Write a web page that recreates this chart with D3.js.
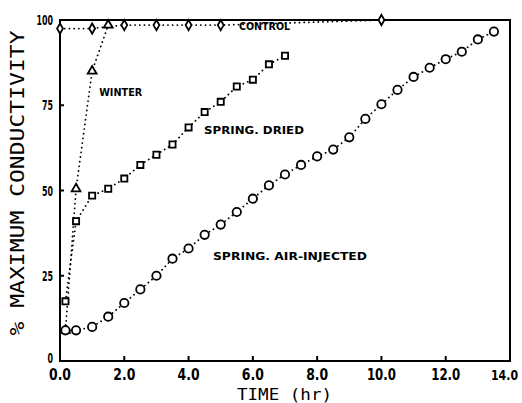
<!DOCTYPE html>
<html>
<head>
<meta charset="utf-8">
<script src="https://cdn.jsdelivr.net/npm/d3@7"></script>
<style>
  body { margin: 0; background: #fff; }
  svg { display: block; }
</style>
</head>
<body>
<div id="chart"></div>
<script>
// values: [time (hr), % maximum conductivity]
const control = [[0, 97.5], [1.0, 97.5], [2.0, 98.5], [3.0, 98.5], [4.0, 98.5], [5.0, 98.5], [10.0, 100]];
const winter = [[0.17, 9], [0.5, 50.5], [1.0, 85], [1.5, 98.5]];
const springDried = [[0.17, 17.5], [0.5, 41], [1.0, 48.5], [1.5, 50.5], [2.0, 53.5], [2.5, 57.5],
  [3.0, 60.5], [3.5, 63.5], [4.0, 68.5], [4.5, 73], [5.0, 76], [5.5, 80.5], [6.0, 82.5],
  [6.5, 87], [7.0, 89.5]];
const airInjected = [[0.17, 9], [0.5, 9], [1.0, 10], [1.5, 13], [2.0, 17], [2.5, 21], [3.0, 25],
  [3.5, 30], [4.0, 33], [4.5, 37], [5.0, 40], [5.5, 43.7], [6.0, 47.6], [6.5, 51.5], [7.0, 54.7],
  [7.5, 57.5], [8.0, 60], [8.5, 62], [9.0, 65.6], [9.5, 71], [10.0, 75.3], [10.5, 79.5],
  [11.0, 83.3], [11.5, 86], [12.0, 88.5], [12.5, 90.7], [13.0, 94.3], [13.5, 96.6]];

const xTicks = [0, 2, 4, 6, 8, 10, 12, 14];
const yTicks = [0, 25, 50, 75, 100];

// series labels, anchored in data units (left edge, baseline)
const labels = [
  {text: 'CONTROL', t: 5.57, v: 97.2, len: 51},
  {text: 'WINTER', t: 1.22, v: 77.8, len: 43},
  {text: 'SPRING. DRIED', t: 4.48, v: 66.6, len: 100},
  {text: 'SPRING. AIR-INJECTED', t: 4.76, v: 29.7, len: 154}
];

const width = 522, height = 403;
const margin = {left: 60, right: 12, top: 20, bottom: 42};

const svg = d3.select('#chart').append('svg')
  .attr('width', width)
  .attr('height', height);

const x = d3.scaleLinear().domain([0, 14]).range([margin.left, width - margin.right]);
const y = d3.scaleLinear().domain([0, 100]).range([height - margin.bottom, margin.top]);

const line = d3.line().x(d => x(d[0])).y(d => y(d[1]));

// frame
svg.append('rect')
  .attr('x', x(0)).attr('y', y(100))
  .attr('width', x(14) - x(0)).attr('height', y(0) - y(100))
  .attr('fill', 'none').attr('stroke', '#000').attr('stroke-width', 2);

// ticks pointing inward
svg.selectAll('.xtick').data(xTicks.slice(1, -1)).enter().append('line')
  .attr('x1', d => x(d)).attr('x2', d => x(d))
  .attr('y1', y(0)).attr('y2', y(0) - 5)
  .attr('stroke', '#000').attr('stroke-width', 2);
svg.selectAll('.ytick').data(yTicks.slice(1, -1)).enter().append('line')
  .attr('x1', x(0)).attr('x2', x(0) + 4)
  .attr('y1', d => y(d)).attr('y2', d => y(d))
  .attr('stroke', '#000').attr('stroke-width', 2);

// tick labels (last one right-aligned so it stays inside the page)
const lastTick = xTicks[xTicks.length - 1];
svg.selectAll('.xlab').data(xTicks).enter().append('text')
  .attr('x', d => d === lastTick ? width - 4 : x(d)).attr('y', y(0) + 19)
  .attr('text-anchor', d => d === lastTick ? 'end' : 'middle')
  .attr('font-family', 'DejaVu Sans Condensed')
  .attr('font-weight', 'bold')
  .attr('font-size', d => d === lastTick ? 14 : 15)
  .attr('textLength', d => d === lastTick ? 27 : d >= 10 ? 29 : 22)
  .attr('lengthAdjust', 'spacingAndGlyphs')
  .text(d => d.toFixed(1));

svg.selectAll('.ylab').data(yTicks).enter().append('text')
  .attr('x', x(0) - 7).attr('y', d => d === 0 ? y(d) + 2 : y(d) + 5)
  .attr('text-anchor', 'end')
  .attr('font-family', 'DejaVu Sans Condensed')
  .attr('font-weight', 'bold')
  .attr('font-size', 14)
  .attr('textLength', d => String(d).length * 5.5)
  .attr('lengthAdjust', 'spacingAndGlyphs')
  .text(d => d);

// axis titles
svg.append('text')
  .attr('x', x(7) - 48).attr('y', height - 3)
  .attr('font-family', 'DejaVu Sans Mono')
  .attr('font-size', 16)
  .attr('textLength', 95)
  .attr('lengthAdjust', 'spacingAndGlyphs')
  .text('TIME (hr)');

svg.append('text')
  .attr('transform', `translate(24, ${y(50) + 145}) rotate(-90)`)
  .attr('font-family', 'DejaVu Sans Mono')
  .attr('font-size', 20)
  .attr('textLength', 305)
  .attr('lengthAdjust', 'spacingAndGlyphs')
  .text('% MAXIMUM CONDUCTIVITY');

// dotted series lines
const series = [
  {data: control, shape: d3.symbolDiamond, size: 30},
  {data: winter, shape: d3.symbolTriangle, size: 34},
  {data: springDried, shape: d3.symbolSquare, size: 38},
  {data: airInjected, shape: d3.symbolCircle, size: 55}
];

series.forEach(s => {
  svg.append('path')
    .attr('d', line(s.data))
    .attr('fill', 'none')
    .attr('stroke', '#000')
    .attr('stroke-width', 1.8)
    .attr('stroke-linecap', 'round')
    .attr('stroke-dasharray', '0.1 4.6');
});

series.forEach(s => {
  svg.append('g').selectAll('path').data(s.data).enter().append('path')
    .attr('transform', d => `translate(${x(d[0])}, ${y(d[1])})`)
    .attr('d', d3.symbol().type(s.shape).size(s.size))
    .attr('fill', '#fff')
    .attr('stroke', '#000')
    .attr('stroke-width', 1.8);
});

// series labels
svg.selectAll('.lab').data(labels).enter().append('text')
  .attr('x', d => x(d.t)).attr('y', d => y(d.v))
  .attr('font-family', 'DejaVu Sans')
  .attr('font-weight', 'bold')
  .attr('font-size', 10)
  .attr('textLength', d => d.len)
  .attr('lengthAdjust', 'spacingAndGlyphs')
  .text(d => d.text);
</script>
</body>
</html>
